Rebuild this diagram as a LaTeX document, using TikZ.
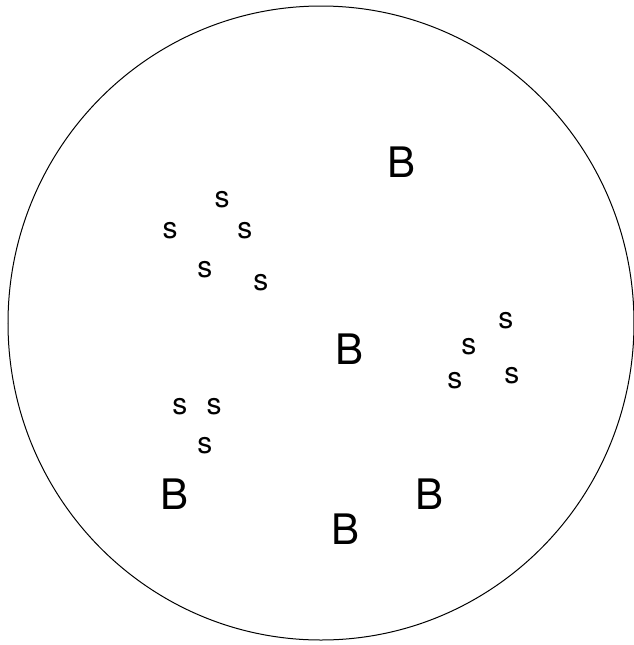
\documentclass[tikz,border=0pt]{standalone}
\usepackage{fontspec}
\setmainfont{TeX Gyre Heros}
\usepackage{tikz}
\usetikzlibrary{positioning}

\begin{document}
\begin{tikzpicture}[
    x=0.5pt, y=-0.5pt,
    big/.style={inner sep=0pt, font=\fontsize{21}{25}\selectfont},
    small/.style={inner sep=0pt, font=\fontsize{15}{18}\selectfont},
    rim/.style={draw, line width=0.5pt}
]
    \useasboundingbox (0,0) rectangle (634,645);

    % Outer circle
    \draw[rim] (321,323) ellipse [x radius=313, y radius=317];

    % Big letters
    \node[big] (b1) at (402,162) {B};
    \node[big] (b2) at (350,349) {B};
    \node[big] (b3) at (175,494) {B};
    \node[big] (b4) at (430,494) {B};
    \node[big] (b5) at (346,529) {B};

    % Upper left group
    \node[small] (s1) at (222,200) {s};
    \node[small] (s2) at (170,231) {s};
    \node[small] (s3) at (245,231) {s};
    \node[small] (s4) at (205,270) {s};
    \node[small] (s5) at (261,283) {s};

    % Right group
    \node[small] (s6) at (506,321) {s};
    \node[small] (s7) at (469,347) {s};
    \node[small] (s8) at (455,381) {s};
    \node[small] (s9) at (512,376) {s};

    % Lower left group
    \node[small] (s10) at (180,407) {s};
    \node[small] (s11) at (214,407) {s};
    \node[small] (s12) at (205,446) {s};
\end{tikzpicture}
\end{document}
